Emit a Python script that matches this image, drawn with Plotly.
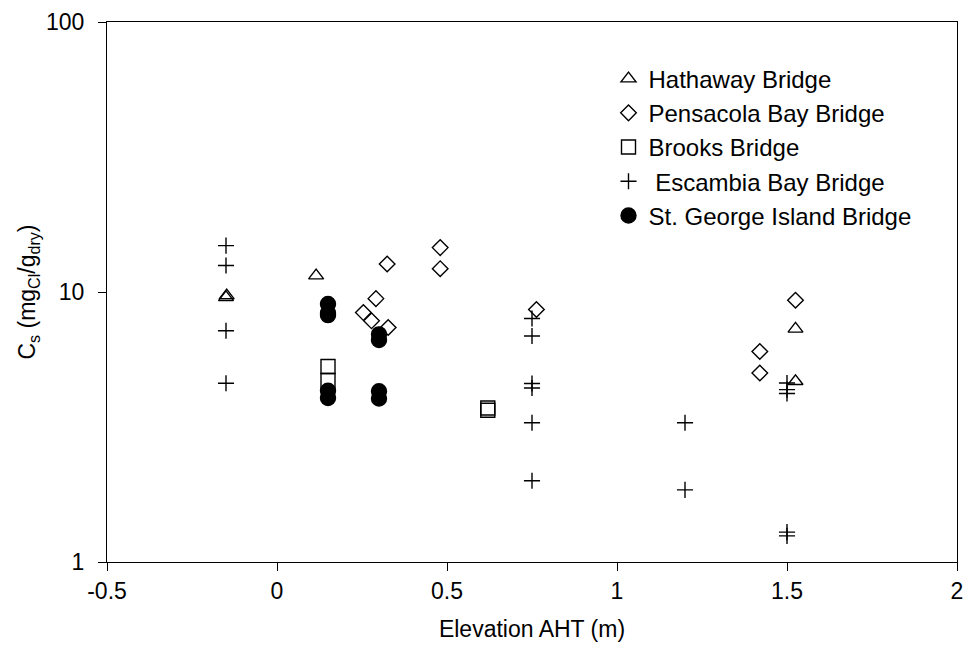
import plotly.graph_objects as go

# ---- data ----
hathaway_x = [-0.15, -0.148, 0.115, 1.525, 1.525]
hathaway_y = [9.55, 9.7, 11.5, 7.3, 4.67]

pensacola_x = [0.254, 0.278, 0.291, 0.324, 0.327, 0.48, 0.48, 0.763, 1.42, 1.42, 1.525]
pensacola_y = [8.39, 7.82, 9.45, 12.7, 7.39, 14.6, 12.2, 8.61, 6.02, 5.01, 9.32]

brooks_x = [0.15, 0.15, 0.62, 0.62]
brooks_y = [5.3, 4.7, 3.72, 3.65]

escambia_x = [-0.15, -0.15, -0.15, -0.15,
              0.75, 0.75, 0.75, 0.75, 0.75, 0.75,
              1.2, 1.2,
              1.5, 1.5, 1.5, 1.5, 1.5]
escambia_y = [14.85, 12.54, 7.19, 4.59,
              7.98, 6.87, 4.58, 4.41, 3.28, 2.0,
              3.28, 1.85,
              4.6, 4.35, 4.21, 1.29, 1.25]

stgeorge_x = [0.15, 0.15, 0.15, 0.15, 0.15, 0.3, 0.3, 0.3, 0.3]
stgeorge_y = [9.03, 8.35, 8.21, 4.31, 4.05, 6.97, 6.64, 4.29, 4.03]

x_tickvals = [-0.5, 0, 0.5, 1, 1.5, 2]
x_ticktext = ["-0.5", "0", "0.5", "1", "1.5", "2"]
y_tickvals = [1, 10, 100]
y_ticktext = ["1", "10", "100"]

FONT = "Liberation Sans, Arial, sans-serif"
FS = 23
LFS = 24
BLACK = "#000000"

fig = go.Figure()

def add(name, xs, ys, symbol, size, grp):
    marker = dict(symbol=symbol, size=size, color=BLACK,
                  line=dict(color=BLACK, width=1.4))
    fig.add_trace(go.Scatter(x=xs, y=ys, mode="markers", name=name,
                             legendgroup=grp, marker=marker, cliponaxis=False))

add("Hathaway Bridge", hathaway_x, hathaway_y, "triangle-up-open", 13, "a")
add("Pensacola Bay Bridge", pensacola_x, pensacola_y, "diamond-open", 12, "b")
add("Brooks Bridge", brooks_x, brooks_y, "square-open", 14, "c")
add(" Escambia Bay Bridge", escambia_x, escambia_y, "cross-thin-open", 11.5, "d")
add("St. George Island Bridge", stgeorge_x, stgeorge_y, "circle", 15, "e")

axis_common = dict(showline=True, linecolor=BLACK, linewidth=1, mirror=True,
                   ticks="outside", ticklen=8, tickcolor=BLACK, tickwidth=1,
                   showgrid=False, zeroline=False,
                   tickfont=dict(family=FONT, size=FS, color=BLACK))

fig.update_layout(
    width=972, height=652,
    margin=dict(l=107, r=9, t=18, b=90),
    paper_bgcolor="white", plot_bgcolor="white",
    font=dict(family=FONT, size=FS, color=BLACK),
    xaxis=dict(range=[-0.5, 2], tickvals=x_tickvals, ticktext=x_ticktext,
               title=dict(text="Elevation AHT (m)", font=dict(family=FONT, size=FS), standoff=18),
               **axis_common),
    yaxis=dict(type="log", range=[0, 2], tickvals=y_tickvals, ticktext=y_ticktext,
               ticklabelstandoff=9,
               title=dict(text="C<sub>s</sub> (mg<sub>Cl</sub>/g<sub>dry</sub>)",
                          font=dict(family=FONT, size=FS), standoff=3),
               **axis_common),
    legend=dict(x=0.59, y=0.936, xanchor="left", yanchor="top",
                traceorder="grouped", tracegroupgap=0,
                bgcolor="rgba(0,0,0,0)", font=dict(family=FONT, size=LFS, color=BLACK)),
    showlegend=True,
)

fig.write_html("out.html")
